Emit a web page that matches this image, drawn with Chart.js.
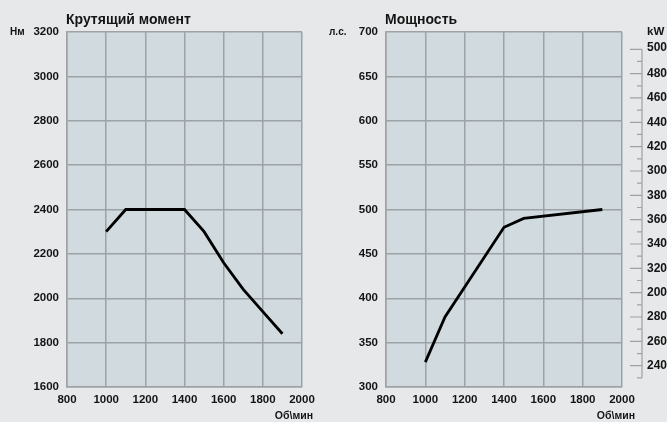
<!DOCTYPE html>
<html>
<head>
<meta charset="utf-8">
<script src="https://cdn.jsdelivr.net/npm/chart.js@4.4.1/dist/chart.umd.min.js"></script>
<style>
  html, body { margin: 0; padding: 0; background: #e6e8ea; }
  #wrap { position: relative; width: 667px; height: 422px; overflow: hidden; }
  canvas { position: absolute; top: 0; }
  #torque { left: 0; }
  #power { left: 322px; }
</style>
</head>
<body>
<div id="wrap">
  <canvas id="torque" width="325" height="422"></canvas>
  <canvas id="power" width="345" height="422"></canvas>
</div>
<script>
// --- data ---
const rpmTorque = [1000, 1100, 1400, 1500, 1600, 1700, 1800, 1900];
const torqueNm  = [2300, 2400, 2400, 2300, 2160, 2040, 1940, 1840];

const rpmPower = [1000, 1100, 1400, 1500, 1900];
const powerHp  = [328, 379, 480, 490, 500];

const rpmTicks    = [800, 1000, 1200, 1400, 1600, 1800, 2000];
const torqueTicks = [1600, 1800, 2000, 2200, 2400, 2600, 2800, 3000, 3200];
const hpTicks     = [300, 350, 400, 450, 500, 550, 600, 650, 700];
// kW scale on the right, labels exactly as printed (incl. the "300"/"200" misprints)
const kwTickValues = [240, 260, 280, 300, 320, 340, 360, 380, 400, 420, 440, 460, 480, 500];
const kwTickLabels = ['240', '260', '280', '200', '320', '340', '360', '380', '300', '420', '440', '460', '480', '500'];
const kwMinorValues = [230, 250, 270, 290, 310, 330, 350, 370, 390, 410, 430, 450, 470, 490];

const GRID = '#9da2a6';
const INK = '#141414';
const FONT = '"Liberation Sans", Arial, sans-serif';

Chart.defaults.font.family = FONT;
Chart.defaults.color = INK;

const plotBg = {
  id: 'plotBg',
  beforeDraw(chart) {
    const { ctx, chartArea: a } = chart;
    ctx.save();
    ctx.fillStyle = '#d1dadf';
    ctx.fillRect(a.left, a.top, a.width, a.height);
    ctx.restore();
  }
};

const captions = {
  id: 'captions',
  afterDraw(chart, args, opts) {
    const { ctx, chartArea: a } = chart;
    ctx.save();
    ctx.fillStyle = INK;
    ctx.font = 'bold 14px ' + FONT;
    ctx.textAlign = 'left';
    ctx.textBaseline = 'alphabetic';
    ctx.fillText(opts.title, a.left - 1, 24);
    ctx.font = 'bold 10px ' + FONT;
    ctx.textBaseline = 'middle';
    ctx.fillText(opts.unit, a.left - 57, 32);
    ctx.textAlign = 'right';
    ctx.font = 'bold 10.5px ' + FONT;
    ctx.fillText(opts.xUnit, a.right + opts.xUnitShift, 416);
    ctx.restore();
  }
};

// kW scale: its own line, tick marks pointing left, labels to the right
const kwAxis = {
  id: 'kwAxis',
  afterDraw(chart) {
    const s = chart.scales.kw;
    if (!s) return;
    const { ctx, chartArea: a } = chart;
    const x = a.right + 20;
    ctx.save();
    ctx.strokeStyle = GRID;
    ctx.lineWidth = 1.2;
    ctx.beginPath();
    ctx.moveTo(x, s.getPixelForValue(kwTickValues[kwTickValues.length - 1]));
    ctx.lineTo(x, s.getPixelForValue(kwMinorValues[0]));
    kwTickValues.forEach(v => {
      const y = s.getPixelForValue(v);
      ctx.moveTo(x - 12, y); ctx.lineTo(x, y);
    });
    kwMinorValues.forEach(v => {
      const y = s.getPixelForValue(v);
      ctx.moveTo(x - 5, y); ctx.lineTo(x, y);
    });
    ctx.stroke();
    ctx.fillStyle = INK;
    ctx.textAlign = 'left';
    ctx.textBaseline = 'middle';
    ctx.font = 'bold 12px ' + FONT;
    kwTickValues.forEach((v, i) => {
      const lift = i === kwTickValues.length - 1 ? 2 : 0;
      ctx.fillText(kwTickLabels[i], x + 5, s.getPixelForValue(v) - lift);
    });
    ctx.font = 'bold 11.5px ' + FONT;
    ctx.fillText('kW', x + 5, 32);
    ctx.restore();
  }
};

function fixedWidth(w) {
  return s => { s.width = w; s.paddingTop = 0; s.paddingBottom = 0; };
}
function fixedHeight(h) {
  return s => { s.height = h; s.paddingLeft = 0; s.paddingRight = 0; };
}
function setTicks(values) {
  return s => { s.ticks = values.map(v => ({ value: v })); };
}

const tickFont = { size: 11.5, weight: 'bold' };

function xScale() {
  return {
    type: 'linear',
    min: rpmTicks[0],
    max: rpmTicks[rpmTicks.length - 1],
    afterBuildTicks: setTicks(rpmTicks),
    afterFit: fixedHeight(35),
    grid: { color: GRID, lineWidth: 1.5, drawTicks: false },
    border: { color: GRID, width: 1.5 },
    ticks: { font: tickFont, padding: 6, maxRotation: 0, autoSkip: false, callback: v => String(v) }
  };
}

function yScale(values, w) {
  return {
    type: 'linear',
    min: values[0],
    max: values[values.length - 1],
    afterBuildTicks: setTicks(values),
    afterFit: fixedWidth(w),
    grid: { color: GRID, lineWidth: 1.5, drawTicks: false },
    border: { color: GRID, width: 1.5 },
    ticks: { font: tickFont, padding: 8, autoSkip: false, callback: v => String(v) }
  };
}

function lineSet(xs, ys) {
  return {
    data: xs.map((x, i) => ({ x, y: ys[i] })),
    borderColor: '#000',
    borderWidth: 2.8,
    pointRadius: 0,
    tension: 0,
    fill: false,
    borderCapStyle: 'butt',
    borderJoinStyle: 'miter'
  };
}

new Chart(document.getElementById('torque'), {
  type: 'line',
  data: { datasets: [lineSet(rpmTorque, torqueNm)] },
  options: {
    responsive: false,
    animation: false,
    layout: { padding: { top: 32, right: 23, left: 0, bottom: 0 } },
    plugins: {
      legend: { display: false },
      tooltip: { enabled: false },
      captions: { title: 'Крутящий момент', unit: 'Нм', xUnit: 'Об\\мин', xUnitShift: 11 }
    },
    scales: {
      x: xScale(),
      y: yScale(torqueTicks, 67)
    }
  },
  plugins: [plotBg, captions]
});

new Chart(document.getElementById('power'), {
  type: 'line',
  data: { datasets: [lineSet(rpmPower, powerHp)] },
  options: {
    responsive: false,
    animation: false,
    layout: { padding: { top: 32, right: 45, left: 0, bottom: 0 } },
    plugins: {
      legend: { display: false },
      tooltip: { enabled: false },
      captions: { title: 'Мощность', unit: 'л.с.', xUnit: 'Об\\мин', xUnitShift: 13 }
    },
    scales: {
      x: xScale(),
      y: yScale(hpTicks, 64),
      kw: {
        type: 'linear',
        position: 'right',
        min: 222.5,
        max: 514.2,
        afterBuildTicks: setTicks(kwTickValues),
        afterFit: fixedWidth(0),
        grid: { display: false, drawTicks: false },
        border: { display: false },
        ticks: { display: false }
      }
    }
  },
  plugins: [plotBg, captions, kwAxis]
});
</script>
</body>
</html>
